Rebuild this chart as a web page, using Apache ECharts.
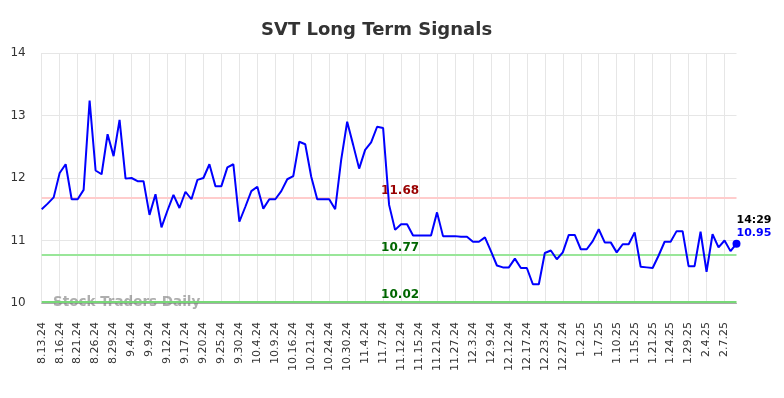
<!DOCTYPE html>
<html>
<head>
<meta charset="utf-8">
<script src="https://cdn.jsdelivr.net/npm/echarts@6/dist/echarts.min.js"></script>
<style>
  html, body { margin: 0; padding: 0; background: #fff; }
  #chart { width: 784px; height: 398px; }
</style>
</head>
<body>
<div id="chart"></div>
<script>
// trading days shown on the x axis (every 3rd one is labelled)
const dates = [
  '8.13.24', '8.14.24', '8.15.24', '8.16.24', '8.19.24', '8.20.24',
  '8.21.24', '8.22.24', '8.23.24', '8.26.24', '8.27.24', '8.28.24',
  '8.29.24', '8.30.24', '9.3.24', '9.4.24', '9.5.24', '9.6.24',
  '9.9.24', '9.10.24', '9.11.24', '9.12.24', '9.13.24', '9.16.24',
  '9.17.24', '9.18.24', '9.19.24', '9.20.24', '9.23.24', '9.24.24',
  '9.25.24', '9.26.24', '9.27.24', '9.30.24', '10.1.24', '10.2.24',
  '10.4.24', '10.7.24', '10.8.24', '10.9.24', '10.11.24', '10.14.24',
  '10.16.24', '10.17.24', '10.18.24', '10.21.24', '10.22.24', '10.23.24',
  '10.24.24', '10.25.24', '10.28.24', '10.30.24', '10.31.24', '11.1.24',
  '11.4.24', '11.5.24', '11.6.24', '11.7.24', '11.8.24', '11.11.24',
  '11.12.24', '11.13.24', '11.14.24', '11.15.24', '11.18.24', '11.20.24',
  '11.21.24', '11.22.24', '11.25.24', '11.27.24', '11.29.24', '12.2.24',
  '12.3.24', '12.4.24', '12.6.24', '12.9.24', '12.10.24', '12.11.24',
  '12.12.24', '12.13.24', '12.16.24', '12.17.24', '12.18.24', '12.20.24',
  '12.23.24', '12.24.24', '12.26.24', '12.27.24', '12.30.24', '12.31.24',
  '1.2.25', '1.3.25', '1.6.25', '1.7.25', '1.8.25', '1.9.25',
  '1.10.25', '1.13.25', '1.14.25', '1.15.25', '1.16.25', '1.17.25',
  '1.21.25', '1.22.25', '1.23.25', '1.24.25', '1.27.25', '1.28.25',
  '1.29.25', '1.30.25', '1.31.25', '2.4.25', '2.5.25', '2.6.25',
  '2.7.25', '2.10.25', '2.11.25'
]

const prices = [
  11.50, 11.59, 11.69, 12.08, 12.22, 11.66, 11.66, 11.81, 13.24, 12.12,
  12.06, 12.70, 12.35, 12.93, 11.99, 12.00, 11.95, 11.95, 11.41, 11.74,
  11.21, 11.48, 11.73, 11.52, 11.78, 11.66, 11.97, 12.00, 12.22, 11.87,
  11.87, 12.17, 12.22, 11.30, 11.54, 11.79, 11.86, 11.51, 11.66, 11.66,
  11.79, 11.98, 12.03, 12.58, 12.54, 12.02, 11.66, 11.66, 11.66, 11.50,
  12.29, 12.90, 12.53, 12.15, 12.45, 12.57, 12.82, 12.80, 11.57, 11.17,
  11.26, 11.26, 11.08, 11.08, 11.08, 11.08, 11.45, 11.07, 11.07, 11.07,
  11.06, 11.06, 10.98, 10.98, 11.05, 10.83, 10.60, 10.57, 10.57, 10.71,
  10.56, 10.56, 10.30, 10.30, 10.80, 10.84, 10.70, 10.81, 11.09, 11.09,
  10.86, 10.86, 10.99, 11.18, 10.97, 10.97, 10.81, 10.94, 10.94, 11.13,
  10.58, 10.57, 10.56, 10.76, 10.98, 10.98, 11.15, 11.15, 10.59, 10.59,
  11.14, 10.50, 11.10, 10.89, 11.00, 10.83, 10.95
]

// signal levels: resistance, support 1, support 2
const levels = [11.68, 10.77, 10.02]
const levelColors = ['#ffcccc', '#99e699', '#77d877']
const levelTextColors = ['#990000', '#006600', '#006600']
const yTicks = [10, 11, 12, 13, 14]
const lastTime = '14:29'

const chart = echarts.init(document.getElementById('chart'))
const font = 'DejaVu Sans'
const lastIdx = prices.length - 1

const option = {
  animation: false,
  textStyle: { fontFamily: font },
  title: {
    text: 'SVT Long Term Signals',
    left: 256,
    top: 16,
    textStyle: { fontFamily: font, fontSize: 18, fontWeight: 'bold', color: '#333' }
  },
  grid: { left: 41.7, right: 47.5, top: 53, bottom: 95 },
  xAxis: {
    type: 'category',
    boundaryGap: false,
    data: dates,
    axisTick: { show: false },
    axisLine: { lineStyle: { color: '#aaa', width: 1 } },
    axisLabel: {
      interval: 2,
      rotate: 90,
      margin: 19,
      fontSize: 11,
      color: '#333',
      fontFamily: font
    },
    splitLine: { show: true, interval: 2, lineStyle: { color: '#e6e6e6', width: 1 } }
  },
  yAxis: {
    type: 'value',
    min: yTicks[0],
    max: yTicks[yTicks.length - 1],
    interval: 1,
    axisLine: { show: false },
    axisTick: { show: false },
    axisLabel: { fontSize: 12, color: '#333', margin: 16, fontFamily: font },
    splitLine: { lineStyle: { color: '#e6e6e6', width: 1 } }
  },
  graphic: [{
    type: 'text',
    left: 53,
    top: 295,
    z: 1,
    style: {
      text: 'Stock Traders Daily',
      font: 'bold 13.5px "DejaVu Sans"',
      fill: 'rgba(120,120,120,0.6)'
    }
  }],
  series: [{
    type: 'line',
    data: prices,
    symbol: 'none',
    z: 3,
    lineStyle: { color: '#0000ff', width: 2 },
    markLine: {
      silent: true,
      symbol: 'none',
      z: 2,
      data: levels.map((v, i) => ({
        yAxis: v,
        lineStyle: { color: levelColors[i], width: 2, type: 'solid' },
        label: {
          show: true,
          position: 'insideMiddleTop',
          distance: 1,
          offset: [11, 0],
          formatter: v.toFixed(2),
          color: levelTextColors[i],
          fontSize: 12,
          fontWeight: 'bold',
          fontFamily: font
        }
      }))
    },
    markPoint: {
      symbol: 'circle',
      symbolSize: 8,
      itemStyle: { color: '#0000ff' },
      data: [{
        coord: [lastIdx, prices[lastIdx]],
        label: {
          show: true,
          position: [4, -26],
          align: 'left',
          formatter: '{t|' + lastTime + '}\n{v|' + prices[lastIdx].toFixed(2) + '}',
          rich: {
            t: { color: '#000', fontSize: 11, fontWeight: 'bold', lineHeight: 13, fontFamily: font },
            v: { color: '#0000ff', fontSize: 11, fontWeight: 'bold', lineHeight: 13, fontFamily: font }
          }
        }
      }]
    }
  }]
}

chart.setOption(option)
</script>
</body>
</html>
